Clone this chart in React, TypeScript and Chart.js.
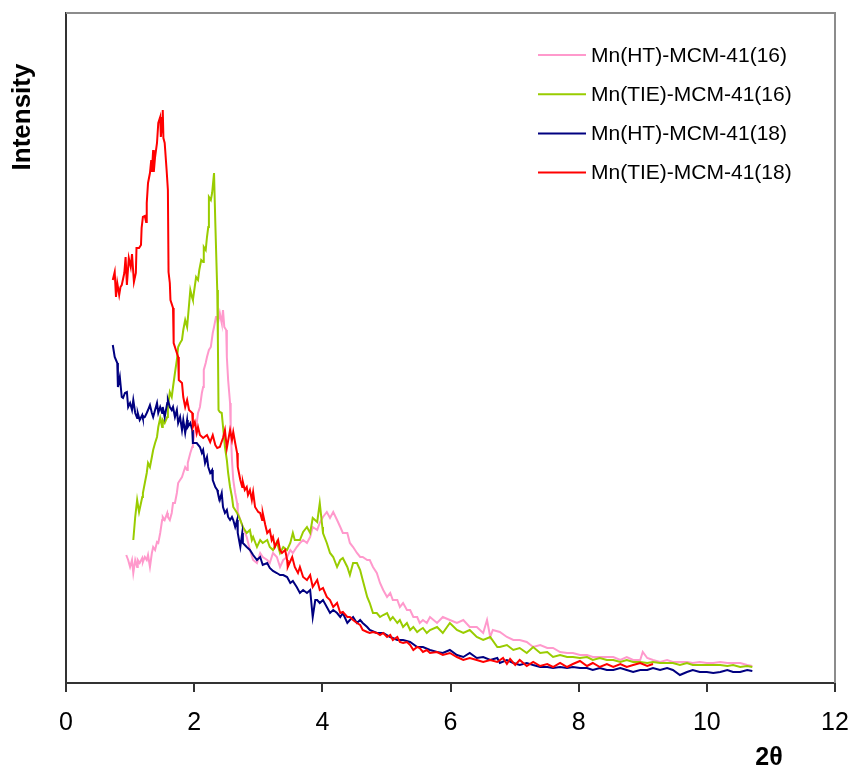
import React, { useEffect, useRef } from "react";
import { Chart, registerables } from "chart.js";

Chart.register(...registerables);

const seriesNames = [
  "Mn(HT)-MCM-41(16)",
  "Mn(TIE)-MCM-41(16)",
  "Mn(HT)-MCM-41(18)",
  "Mn(TIE)-MCM-41(18)",
];
const seriesColors = ["#FF99CC", "#99CC00", "#000080", "#FF0000"];

const xTicks = [0, 2, 4, 6, 8, 10, 12];
const xLabel = "2\u03B8";
const yLabel = "Intensity";

// Mn(HT)-MCM-41(16) - pink
const pinkX = [0.94,0.97,1.0,1.03,1.05,1.08,1.11,1.12,1.15,1.19,1.2,1.23,1.26,1.28,1.31,1.34,1.36,1.39,1.42,1.44,1.47,1.5,1.51,1.54,1.58,1.59,1.62,1.65,1.67,1.7,1.73,1.75,1.78,1.81,1.83,1.86,1.89,1.9,1.94,1.97,1.98,2.01,2.04,2.06,2.09,2.12,2.14,2.15,2.18,2.2,2.23,2.26,2.29,2.31,2.34,2.36,2.37,2.4,2.42,2.43,2.45,2.47,2.5,2.51,2.53,2.56,2.57,2.59,2.61,2.64,2.67,2.68,2.72,2.76,2.82,2.87,2.92,2.98,3.03,3.07,3.14,3.18,3.23,3.29,3.34,3.39,3.45,3.5,3.54,3.6,3.65,3.7,3.76,3.81,3.85,3.92,3.96,4.01,4.07,4.12,4.17,4.23,4.28,4.32,4.39,4.43,4.48,4.54,4.59,4.63,4.7,4.74,4.79,4.85,4.9,4.95,5.01,5.06,5.1,5.17,5.21,5.26,5.32,5.37,5.42,5.48,5.52,5.57,5.63,5.68,5.79,5.88,5.99,6.1,6.2,6.3,6.41,6.51,6.57,6.62,6.66,6.77,6.88,6.98,7.08,7.19,7.29,7.4,7.51,7.6,7.71,7.82,7.91,8.02,8.13,8.22,8.33,8.44,8.54,8.65,8.75,8.85,8.96,9.0,9.07,9.16,9.27,9.38,9.47,9.58,9.69,9.78,9.89,10.0,10.1,10.21,10.32,10.41,10.52,10.63,10.71];
const pinkY = [128,123,116,123,110,123,116,123,120,125,121,126,123,128,116,130,136,133,141,140,150,163,166,163,170,166,163,170,180,180,190,200,203,206,210,216,213,220,230,236,240,250,260,270,276,290,296,313,320,326,333,336,350,356,366,366,360,370,363,360,373,356,353,326,303,280,253,223,203,190,180,171,163,156,146,133,123,120,130,126,123,120,130,126,116,123,126,133,130,136,140,143,140,146,156,153,160,166,171,165,171,163,156,150,150,140,136,130,126,126,123,123,116,110,100,93,86,90,83,83,76,80,73,73,66,66,60,63,60,66,60,66,63,60,63,56,56,50,63,46,53,51,46,43,43,41,36,38,35,35,31,30,30,28,28,26,26,26,26,23,26,23,23,31,25,23,21,23,21,21,21,20,21,20,20,21,20,20,20,18,17];

// Mn(TIE)-MCM-41(16) - green
const greenX = [1.05,1.08,1.11,1.14,1.19,1.2,1.23,1.26,1.28,1.31,1.34,1.36,1.39,1.42,1.44,1.47,1.5,1.51,1.54,1.58,1.59,1.62,1.65,1.67,1.7,1.73,1.75,1.78,1.81,1.83,1.86,1.89,1.94,1.97,1.98,2.03,2.06,2.08,2.11,2.14,2.15,2.18,2.2,2.22,2.23,2.26,2.28,2.31,2.33,2.36,2.37,2.38,2.4,2.43,2.48,2.51,2.53,2.56,2.59,2.61,2.67,2.72,2.76,2.82,2.87,2.9,2.92,2.98,3.03,3.07,3.14,3.18,3.23,3.29,3.34,3.39,3.45,3.5,3.54,3.57,3.62,3.65,3.7,3.76,3.81,3.85,3.92,3.96,4.0,4.01,4.07,4.12,4.17,4.23,4.28,4.32,4.39,4.43,4.48,4.54,4.59,4.63,4.7,4.74,4.79,4.85,4.9,4.95,5.01,5.06,5.1,5.17,5.21,5.26,5.32,5.37,5.42,5.48,5.52,5.57,5.63,5.68,5.79,5.88,5.99,6.1,6.2,6.3,6.41,6.51,6.62,6.73,6.77,6.88,6.98,7.08,7.19,7.29,7.4,7.51,7.6,7.71,7.82,7.91,8.02,8.13,8.22,8.33,8.44,8.54,8.65,8.75,8.85,8.96,9.07,9.16,9.27,9.38,9.47,9.58,9.69,9.78,9.89,10.0,10.1,10.21,10.32,10.41,10.52,10.63,10.71];
const greenY = [143,166,183,171,186,190,200,210,220,216,226,233,240,246,256,265,256,263,260,266,276,291,286,296,310,323,336,340,343,353,363,356,393,385,383,406,403,413,423,421,436,433,446,456,486,483,490,510,460,393,343,273,271,270,236,223,210,196,186,176,170,163,156,150,153,143,146,136,143,140,143,136,133,141,130,136,133,140,150,143,143,143,151,156,150,165,161,180,156,150,140,130,126,116,123,125,116,108,120,120,113,103,86,80,70,70,66,68,70,63,66,60,63,56,60,53,56,51,53,55,50,53,56,50,60,53,50,53,46,43,46,36,36,38,33,35,30,36,30,31,26,28,26,26,25,26,23,25,23,23,21,23,21,21,20,21,20,20,20,18,20,18,18,18,18,18,17,18,16,17,16];

// Mn(HT)-MCM-41(18) - navy
const navyX = [0.73,0.76,0.8,0.81,0.84,0.87,0.89,0.92,0.95,0.97,1.0,1.03,1.05,1.08,1.11,1.12,1.15,1.19,1.2,1.23,1.26,1.28,1.31,1.34,1.36,1.39,1.42,1.44,1.47,1.5,1.51,1.54,1.58,1.59,1.62,1.65,1.67,1.7,1.73,1.75,1.78,1.81,1.83,1.86,1.89,1.9,1.94,1.97,1.98,2.04,2.09,2.12,2.14,2.17,2.2,2.22,2.25,2.28,2.29,2.33,2.36,2.37,2.4,2.43,2.45,2.48,2.51,2.53,2.56,2.59,2.61,2.64,2.67,2.68,2.72,2.75,2.76,2.82,2.87,2.92,2.98,3.03,3.07,3.14,3.18,3.23,3.29,3.34,3.39,3.45,3.5,3.54,3.6,3.65,3.7,3.76,3.81,3.85,3.89,3.92,3.96,4.01,4.07,4.12,4.17,4.23,4.28,4.32,4.39,4.43,4.48,4.54,4.59,4.63,4.7,4.74,4.85,4.95,5.06,5.17,5.26,5.37,5.48,5.57,5.68,5.79,5.88,5.99,6.1,6.2,6.3,6.41,6.51,6.62,6.73,6.77,6.88,6.98,7.08,7.19,7.29,7.4,7.51,7.6,7.71,7.82,7.91,8.02,8.13,8.22,8.33,8.44,8.54,8.65,8.75,8.85,8.96,9.07,9.16,9.27,9.38,9.47,9.58,9.69,9.78,9.89,10.0,10.1,10.21,10.32,10.41,10.52,10.63,10.71];
const navyY = [338,326,320,296,306,286,285,290,291,276,280,273,283,270,265,270,263,268,265,266,270,273,278,270,266,273,280,270,276,270,276,266,280,283,276,273,276,266,273,260,266,253,263,250,263,256,260,253,240,240,236,230,233,220,226,216,210,213,203,196,193,190,183,190,176,170,173,166,163,166,163,156,163,150,136,150,140,136,133,128,123,126,118,120,115,112,110,108,108,106,100,102,96,90,93,90,93,66,83,83,80,83,76,70,73,70,66,70,60,63,66,60,63,60,56,53,50,50,46,43,43,41,36,36,33,31,30,33,28,26,30,25,26,23,25,20,23,20,18,20,18,16,16,15,16,15,16,15,15,13,15,13,13,15,13,11,13,13,15,13,15,13,8,11,13,11,11,10,11,13,11,11,13,12];

// Mn(TIE)-MCM-41(18) - red
const redX = [0.73,0.76,0.78,0.8,0.83,0.85,0.87,0.91,0.93,0.95,0.98,1.01,1.03,1.06,1.09,1.1,1.14,1.17,1.18,1.2,1.23,1.25,1.26,1.28,1.31,1.33,1.34,1.36,1.37,1.39,1.42,1.44,1.47,1.48,1.5,1.51,1.52,1.54,1.57,1.59,1.6,1.62,1.63,1.67,1.68,1.75,1.76,1.81,1.83,1.86,1.89,1.92,1.97,1.98,2.01,2.04,2.06,2.09,2.14,2.2,2.25,2.29,2.33,2.36,2.4,2.45,2.48,2.51,2.56,2.59,2.61,2.64,2.67,2.68,2.72,2.75,2.76,2.79,2.82,2.84,2.87,2.9,2.92,2.95,2.98,3.0,3.03,3.06,3.07,3.11,3.14,3.18,3.21,3.23,3.26,3.31,3.34,3.37,3.42,3.45,3.46,3.53,3.57,3.62,3.65,3.7,3.76,3.81,3.85,3.92,3.96,4.01,4.07,4.12,4.17,4.23,4.28,4.32,4.39,4.43,4.48,4.54,4.59,4.63,4.7,4.74,4.79,4.85,4.9,4.95,5.01,5.06,5.1,5.17,5.21,5.26,5.32,5.37,5.42,5.48,5.52,5.57,5.63,5.68,5.79,5.88,5.99,6.1,6.2,6.3,6.41,6.51,6.62,6.73,6.82,6.88,6.93,7.01,7.08,7.19,7.29,7.4,7.51,7.6,7.71,7.82,7.91,8.02,8.13,8.22,8.33,8.44,8.54,8.65,8.75,8.85,8.96,9.07,9.16];
const redY = [403,411,386,400,388,396,398,410,426,398,425,416,429,401,410,435,435,438,455,466,467,461,480,500,510,523,511,533,511,526,540,560,566,546,560,573,545,540,513,493,411,400,383,375,340,326,303,300,286,276,283,273,270,256,261,250,256,248,245,248,241,248,238,235,236,245,253,235,253,243,251,240,230,216,203,196,201,193,196,188,193,183,191,176,173,171,170,163,170,158,150,153,143,146,136,143,133,130,133,123,116,126,116,110,116,106,103,108,96,103,93,95,86,83,76,80,70,71,66,66,63,60,58,53,51,50,51,50,48,50,46,48,43,46,41,40,41,38,33,36,35,31,33,30,31,28,30,26,23,25,23,21,23,21,25,19,24,18,23,17,21,17,19,16,20,16,19,22,17,20,16,19,16,19,16,18,20,17,19];

const xs = [pinkX, greenX, navyX, redX];
const ys = [pinkY, greenY, navyY, redY];

const FONT = "'Liberation Sans', Arial, Helvetica, sans-serif";
const CW = 844;
const CH = 759;

const decorPlugin = {
  id: "decor",
  afterDraw(chart: any) {
    const { ctx, chartArea } = chart;
    const { left, top, right, bottom } = chartArea;
    ctx.save();
    // frame top/right
    ctx.strokeStyle = "#8c8c8c";
    ctx.lineWidth = 2;
    ctx.beginPath();
    ctx.moveTo(left, top);
    ctx.lineTo(right, top);
    ctx.lineTo(right, bottom);
    ctx.stroke();

    // legend
    const legX = 530;
    const legY0 = 47;
    const legDy = 39.2;
    ctx.font = `21px ${FONT}`;
    ctx.textBaseline = "middle";
    ctx.textAlign = "left";
    seriesNames.forEach((name, i) => {
      const y = legY0 + i * legDy;
      ctx.strokeStyle = seriesColors[i];
      ctx.lineWidth = 2;
      ctx.beginPath();
      ctx.moveTo(legX, y);
      ctx.lineTo(legX + 48, y);
      ctx.stroke();
      ctx.fillStyle = "#000000";
      ctx.fillText(name, legX + 53, y + 1);
    });

    // axis titles
    ctx.fillStyle = "#000000";
    ctx.font = `bold 26px ${FONT}`;
    ctx.textAlign = "center";
    ctx.textBaseline = "middle";
    ctx.save();
    ctx.translate(15, 109);
    ctx.rotate(-Math.PI / 2);
    ctx.fillText(yLabel, 0, 0);
    ctx.restore();

    ctx.font = `bold 25px ${FONT}`;
    ctx.fillText(xLabel, 761, 750);
    ctx.restore();
  },
};

export default function App() {
  const ref = useRef<HTMLCanvasElement | null>(null);
  useEffect(() => {
    if (!ref.current) return;
    const datasets = seriesNames.map((name, i) => ({
      label: name,
      data: xs[i].map((x, j) => ({ x, y: ys[i][j] })),
      borderColor: seriesColors[i],
      backgroundColor: seriesColors[i],
      borderWidth: 2,
      pointRadius: 0,
      tension: 0,
      fill: false,
      order: 3 - i,
    }));
    const chart = new Chart(ref.current, {
      type: "line",
      data: { datasets },
      plugins: [decorPlugin],
      options: {
        animation: false,
        responsive: false,
        maintainAspectRatio: false,
        layout: { padding: { left: 58, right: CW - 827, top: 5, bottom: 0 } },
        plugins: { legend: { display: false }, tooltip: { enabled: false } },
        scales: {
          x: {
            type: "linear",
            min: 0,
            max: 12,
            afterBuildTicks: (s: any) => {
              s.ticks = xTicks.map((v) => ({ value: v }));
            },
            afterFit: (s: any) => {
              s.height = CH - 675;
              s.paddingLeft = 0;
              s.paddingRight = 0;
            },
            ticks: {
              color: "#000000",
              font: { family: FONT, size: 25 },
              padding: 16,
              maxRotation: 0,
            },
            grid: {
              display: true,
              drawOnChartArea: false,
              drawTicks: true,
              tickLength: 9,
              color: "#333333",
              lineWidth: 2,
            },
            border: { display: true, color: "#333333", width: 2 },
          },
          y: {
            type: "linear",
            min: 0,
            max: 670,
            afterFit: (s: any) => {
              s.width = 0;
              s.paddingTop = 0;
              s.paddingBottom = 0;
            },
            ticks: { display: false },
            grid: { display: false },
            border: { display: true, color: "#333333", width: 2 },
          },
        },
      },
    });
    return () => chart.destroy();
  }, []);
  return (
    <div style={{ position: "absolute", left: 8, top: 8, width: CW, height: CH }}>
      <canvas ref={ref} width={CW} height={CH} style={{ display: "block" }} />
    </div>
  );
}
